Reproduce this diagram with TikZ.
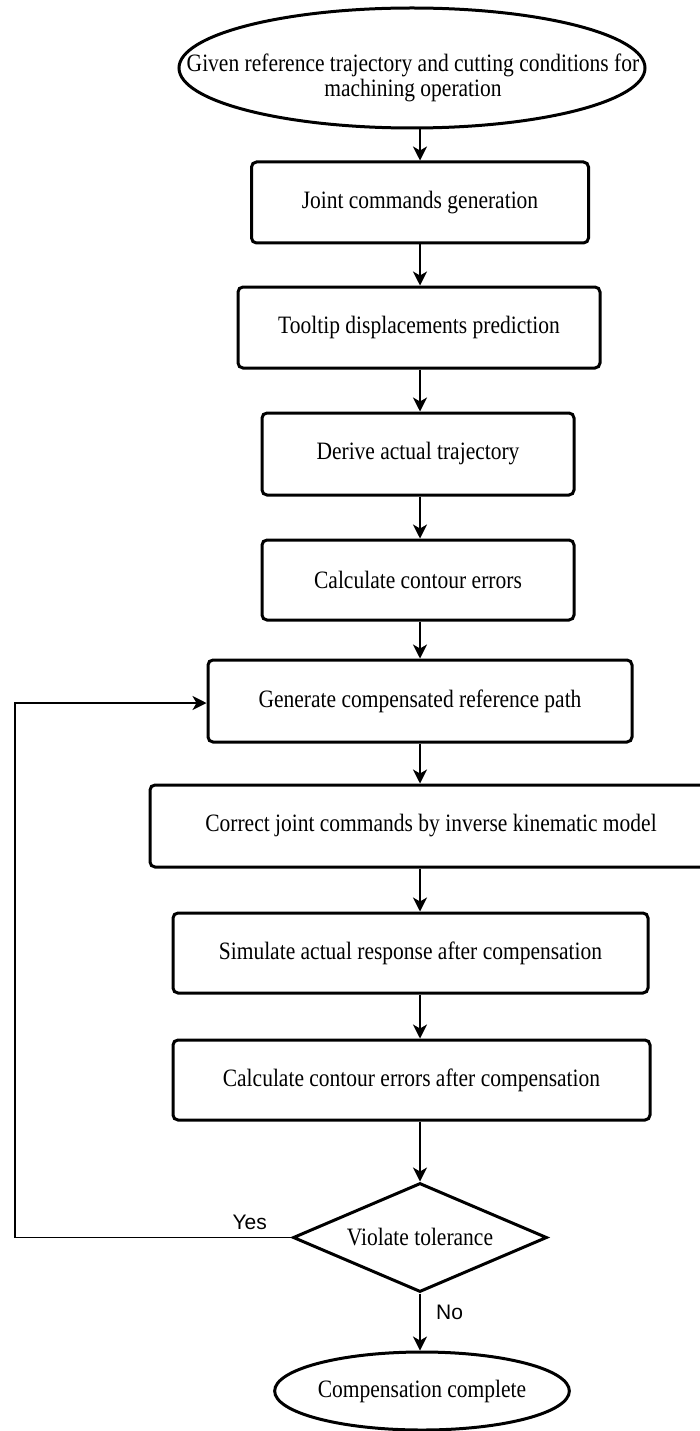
\documentclass[tikz,border=0pt]{standalone}
\usepackage{fontspec}
\setmainfont{Liberation Serif}[FakeStretch=0.86]
\newfontfamily\labelfont{Liberation Sans}
\usetikzlibrary{shapes.geometric,arrows.meta}
\begin{document}
\begin{tikzpicture}[x=1pt,y=-1pt,
  every node/.style={font=\fontsize{25}{25}\selectfont},
  stepbox/.style={draw,line width=3pt,rounded corners=5pt,inner sep=0pt},
  terminal/.style={draw,ellipse,line width=3pt,inner sep=0pt},
  decision/.style={draw,diamond,aspect=2.33,line width=3pt,inner sep=0pt},
  flow/.style={line width=1.6pt,-{Stealth[length=14pt,width=14pt,inset=4pt]}},
  branch/.style={font=\labelfont\fontsize{21}{21}\selectfont}]
\useasboundingbox (0,0) rectangle (699,1431);
% start and end terminals
\node[terminal,minimum width=466pt,minimum height=120pt] (start) at (412,68) {};
\node[align=center,inner sep=0pt] (starttext) at (413,78)
  {Given reference trajectory and cutting conditions for\\machining operation};
% process steps
\node[stepbox,minimum width=337pt,minimum height=81pt] (jcg) at (420,202.5) {Joint commands generation};
\node[stepbox,minimum width=362pt,minimum height=81pt] (tdp) at (419,327.5) {Tooltip displacements prediction};
\node[stepbox,minimum width=312pt,minimum height=82pt] (dat) at (418,454) {Derive actual trajectory};
\node[stepbox,minimum width=312pt,minimum height=80pt] (cce) at (418,580) {Calculate contour errors};
\node[stepbox,minimum width=424pt,minimum height=82pt] (gcr) at (420,701) {Generate compensated reference path};
\node[stepbox,minimum width=562pt,minimum height=82pt] (cjc) at (431,826) {Correct joint commands by inverse kinematic model};
\node[stepbox,minimum width=475pt,minimum height=80pt] (sar) at (410.5,953) {Simulate actual response after compensation};
\node[stepbox,minimum width=477pt,minimum height=80pt] (cca) at (411.5,1080) {Calculate contour errors after compensation};
\node[decision,minimum width=254pt,minimum height=109pt] (vt) at (420,1237.5) {Violate tolerance};
\node[terminal,minimum width=289pt,minimum height=78pt] (done) at (422,1391) {Compensation complete};
% feedback corners
\coordinate (lb) at (15,1237.5);
\coordinate (lt) at (15,703);
% main flow
\draw[flow] (start.south -| jcg.north) -- (jcg.north);
\draw[flow] (jcg) -- (jcg.south |- tdp.north);
\draw[flow] (jcg.south |- tdp.south) -- (jcg.south |- dat.north);
\draw[flow] (jcg.south |- dat.south) -- (jcg.south |- cce.north);
\draw[flow] (jcg.south |- cce.south) -- (jcg.south |- gcr.north);
\draw[flow] (jcg.south |- gcr.south) -- (jcg.south |- cjc.north);
\draw[flow] (jcg.south |- cjc.south) -- (jcg.south |- sar.north);
\draw[flow] (jcg.south |- sar.south) -- (jcg.south |- cca.north);
\draw[flow] (jcg.south |- cca.south) -- (vt.north);
\draw[flow] (vt.south) -- node[branch,pos=0.45,anchor=base west,xshift=12pt] {No} (vt.south |- done.north);
\draw[flow] (vt.west) -- node[branch,pos=0.151,anchor=base,yshift=8pt] {Yes} (lb) -- (lt) -- (lt -| gcr.west);
\end{tikzpicture}
\end{document}
